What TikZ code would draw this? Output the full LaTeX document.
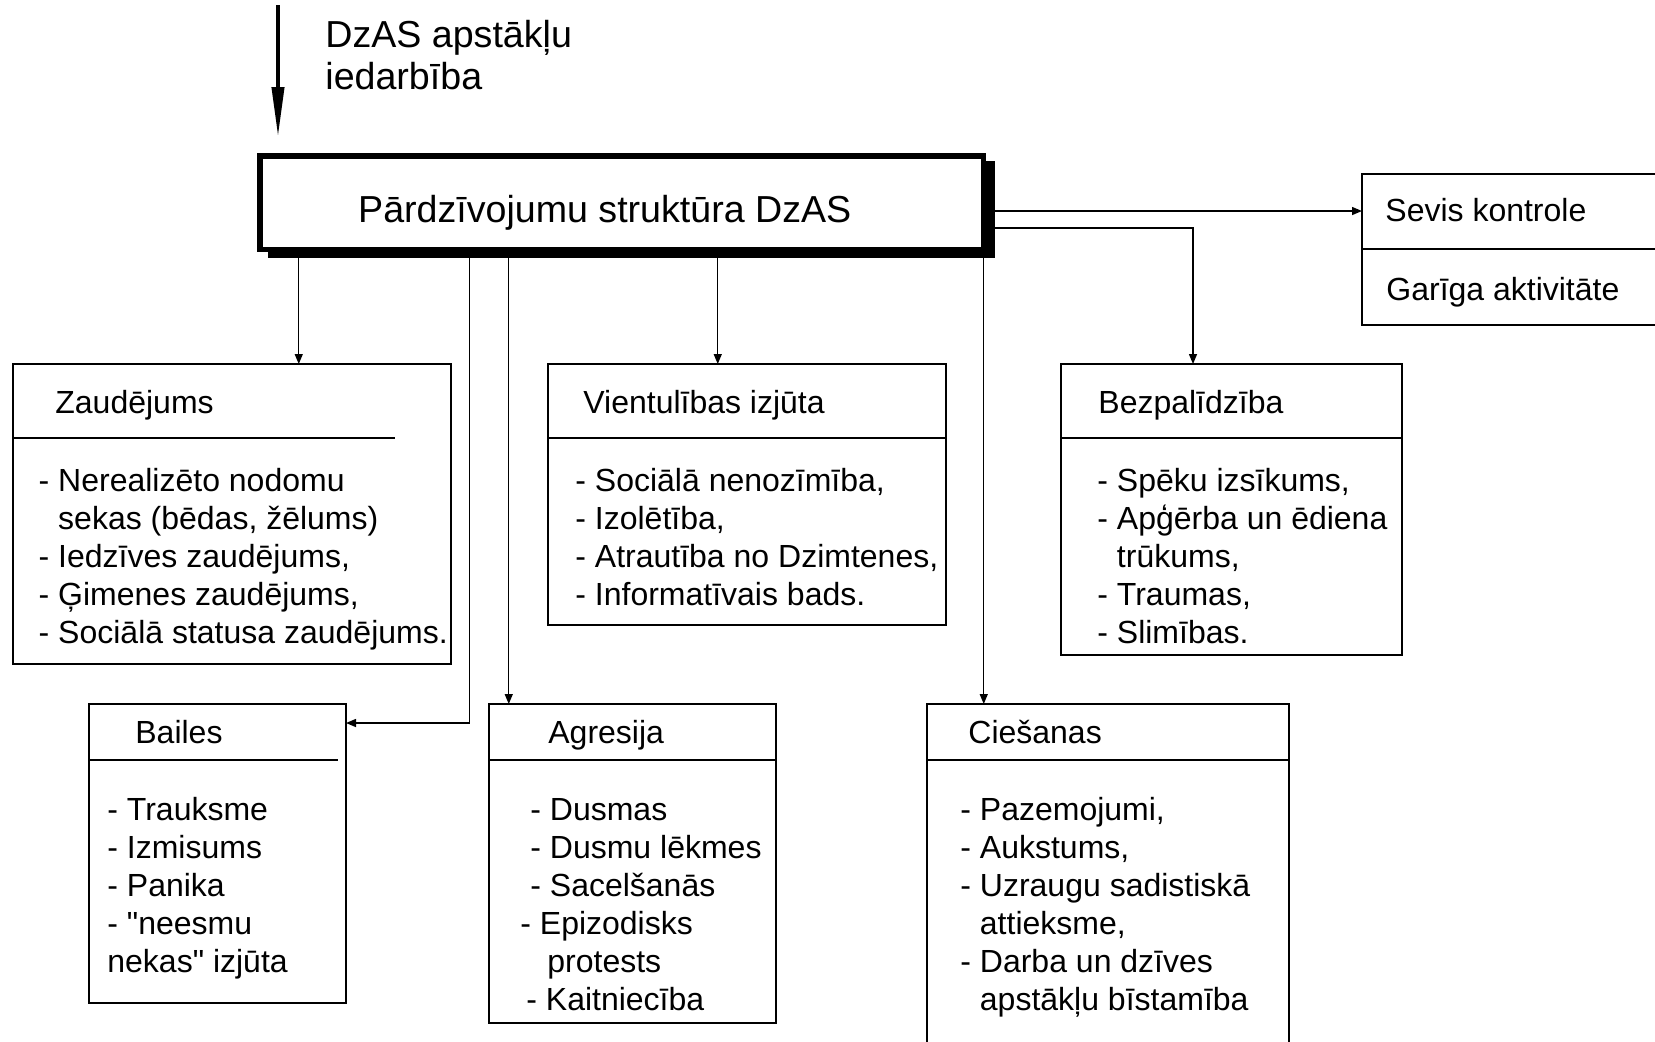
\documentclass[tikz,border=0pt]{standalone}
\usepackage{fontspec}
\setmainfont{Liberation Sans}[Ligatures=TeXOff]
\usetikzlibrary{arrows.meta,fit,calc}
\newcommand\fstrut{\rule{0pt}{16pt}}
\newcommand\ind{\phantom{- }}
\tikzset{
  box/.style={draw, line width=1pt, inner sep=0pt, outer sep=0pt, fill=white},
  conn/.style={line width=0.7pt, -{Triangle[length=5pt,width=4pt]}},
  sepline/.style={line width=1pt},
  bodyt/.style={anchor=north west, inner sep=0pt, align=left, font=\fontsize{16}{19}\selectfont},
  titlet/.style={anchor=base west, inner sep=0pt, font=\fontsize{16}{19}\selectfont},
  bigt/.style={inner sep=0pt, font=\fontsize{18.8}{21}\selectfont}
}
\begin{document}
\begin{tikzpicture}[x=0.5pt,y=-0.5pt]
\useasboundingbox (0,0) rectangle (1655,1041);
% top incoming arrow
\coordinate (inA) at (278,5);
\coordinate (inB) at (278,137);
\draw[line width=2pt, -{Triangle[length=25pt,width=6pt]}] (inA) -- (inB);
\node[bigt, anchor=north west, align=left] (inlabel) at (325,13.5) {\rule{0pt}{17pt}DzAS apstākļu\\iedarbība};
% main box with shadow
\fill (268,161) rectangle (995,258);
\node[box, line width=2.75pt, fit={(259.75,155.75)(983.25,249.25)}] (main) {};
\node[bigt, anchor=base west] (maintext) at (357.8,222.5) {Pārdzīvojumu struktūra DzAS};
% boxes
\node[box, fit={(1362,174)(1680,325)}] (sevis) {};
\node[box, fit={(13,364)(451,664)}] (zaud) {};
\node[box, fit={(548,364)(946,625)}] (vient) {};
\node[box, fit={(1061,364)(1402,655)}] (bez) {};
\node[box, fit={(89,704)(346,1003)}] (bailes) {};
\node[box, fit={(489,704)(776,1023)}] (agr) {};
\node[box, fit={(927,704)(1289,1060)}] (cies) {};
% separators
\draw[sepline] ($(sevis.north west)+(0,75)$) -- ($(sevis.north east)+(0,75)$);
\draw[sepline] ($(zaud.north west)+(0,74)$) -- ($(zaud.north west)+(382,74)$);
\draw[sepline] ($(vient.north west)+(0,74)$) -- ($(vient.north east)+(0,74)$);
\draw[sepline] ($(bez.north west)+(0,74)$) -- ($(bez.north east)+(0,74)$);
\draw[sepline] ($(bailes.north west)+(0,56)$) -- ($(bailes.north west)+(249,56)$);
\draw[sepline] ($(agr.north west)+(0,56)$) -- ($(agr.north east)+(0,56)$);
\draw[sepline] ($(cies.north west)+(0,56)$) -- ($(cies.north east)+(0,56)$);
% connectors
\draw[conn] ($(main.south west)+(39,0)$) -- ($(zaud.north west)+(285.75,0)$);
\draw[conn] ($(main.south west)+(210,0)$) |- ($(bailes.north east)+(0,19)$);
\draw[conn] ($(main.south west)+(249,0)$) -- ($(agr.north west)+(19.75,0)$);
\draw[conn] ($(main.south west)+(458,0)$) -- ($(vient.north west)+(169.75,0)$);
\draw[conn] ($(main.south west)+(724,0)$) -- ($(cies.north west)+(56.75,0)$);
\draw[conn] ($(main.north east)+(0,55.25)$) -- ($(sevis.north west)+(0,37)$);
\draw[conn] ($(main.north east)+(0,72.25)$) -| ($(bez.north west)+(132,0)$);
% texts
\node[titlet] (sevist1) at (1385,221) {Sevis kontrole};
\node[titlet] (sevist2) at (1386,300) {Garīga aktivitāte};

\node[titlet] (zaudt) at (55,413) {Zaudējums};
\node[bodyt] (zaudb) at (38.3,459) {\fstrut- Nerealizēto nodomu\\\ind sekas (bēdas, žēlums)\\- Iedzīves zaudējums,\\- Ģimenes zaudējums,\\- Sociālā statusa zaudējums.};

\node[titlet] (vientt) at (583,413) {Vientulības izjūta};
\node[bodyt] (vientb) at (575,459) {\fstrut- Sociālā nenozīmība,\\- Izolētība,\\- Atrautība no Dzimtenes,\\- Informatīvais bads.};

\node[titlet] (bezt) at (1098,413) {Bezpalīdzība};
\node[bodyt] (bezb) at (1097,459) {\fstrut- Spēku izsīkums,\\- Apģērba un ēdiena\\\ind trūkums,\\- Traumas,\\- Slimības.};

\node[titlet] (bailest) at (135,743) {Bailes};
\node[bodyt] (bailesb) at (107,788) {\fstrut- Trauksme\\- Izmisums\\- Panika\\- "neesmu\\nekas" izjūta};

\node[titlet] (agrt) at (548,743) {Agresija};
\node[bodyt] (agrb) at (520,788) {\fstrut\hspace{5pt}- Dusmas\\\hspace{5pt}- Dusmu lēkmes\\\hspace{5pt}- Sacelšanās\\- Epizodisks\\\hspace{13.5pt}protests\\\hspace{3pt}- Kaitniecība};

\node[titlet] (ciest) at (968,743) {Ciešanas};
\node[bodyt] (ciesb) at (960,788) {\fstrut- Pazemojumi,\\- Aukstums,\\- Uzraugu sadistiskā\\\ind attieksme,\\- Darba un dzīves\\\ind apstākļu bīstamība};
\end{tikzpicture}
\end{document}
